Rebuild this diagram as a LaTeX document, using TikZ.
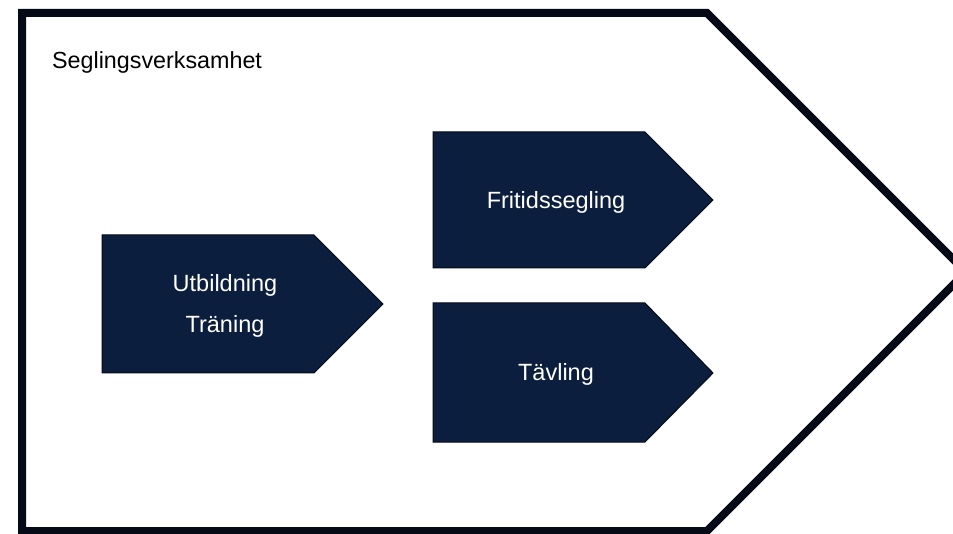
\documentclass[tikz,border=0pt]{standalone}
\usepackage{fontspec}
\setmainfont{Liberation Sans}
\definecolor{navyfill}{RGB}{12,30,61}
\definecolor{outline}{RGB}{5,10,22}
\begin{document}
\begin{tikzpicture}[x=1pt,y=-1pt,
  outer/.style={draw=outline,line width=8pt,fill=white,line join=miter},
  chevron/.style={draw=outline,line width=1pt,fill=navyfill},
  lbl/.style={inner sep=0pt,anchor=base,font=\fontsize{23.5}{28}\selectfont,text=white},
  title/.style={inner sep=0pt,anchor=base west,font=\fontsize{23.3}{28}\selectfont,text=black}]
\useasboundingbox (0,0) rectangle (953,534);
\begin{scope}
\clip (0,0) rectangle (953,534);
\draw[outer] (22,13) -- (707,13) -- (966,272) -- (707,531) -- (22,531) -- cycle;
\end{scope}
\node[title] (ttl) at (52,69) {Seglingsverksamhet};
% Utbildning / Traning
\draw[chevron] (102,235) -- (314,235) -- (383,304) -- (314,373) -- (102,373) -- cycle;
\node[lbl] (utb) at (225,292) {Utbildning};
\node[lbl] (tra) at (225,333) {Träning};
% Fritidssegling
\draw[chevron] (433,132) -- (645,132) -- (713,200) -- (645,268) -- (433,268) -- cycle;
\node[lbl] (fri) at (556,209) {Fritidssegling};
% Tavling
\draw[chevron] (433,303) -- (645,303) -- (713,373) -- (645,442) -- (433,442) -- cycle;
\node[lbl] (tav) at (556,381) {Tävling};
\end{tikzpicture}
\end{document}
